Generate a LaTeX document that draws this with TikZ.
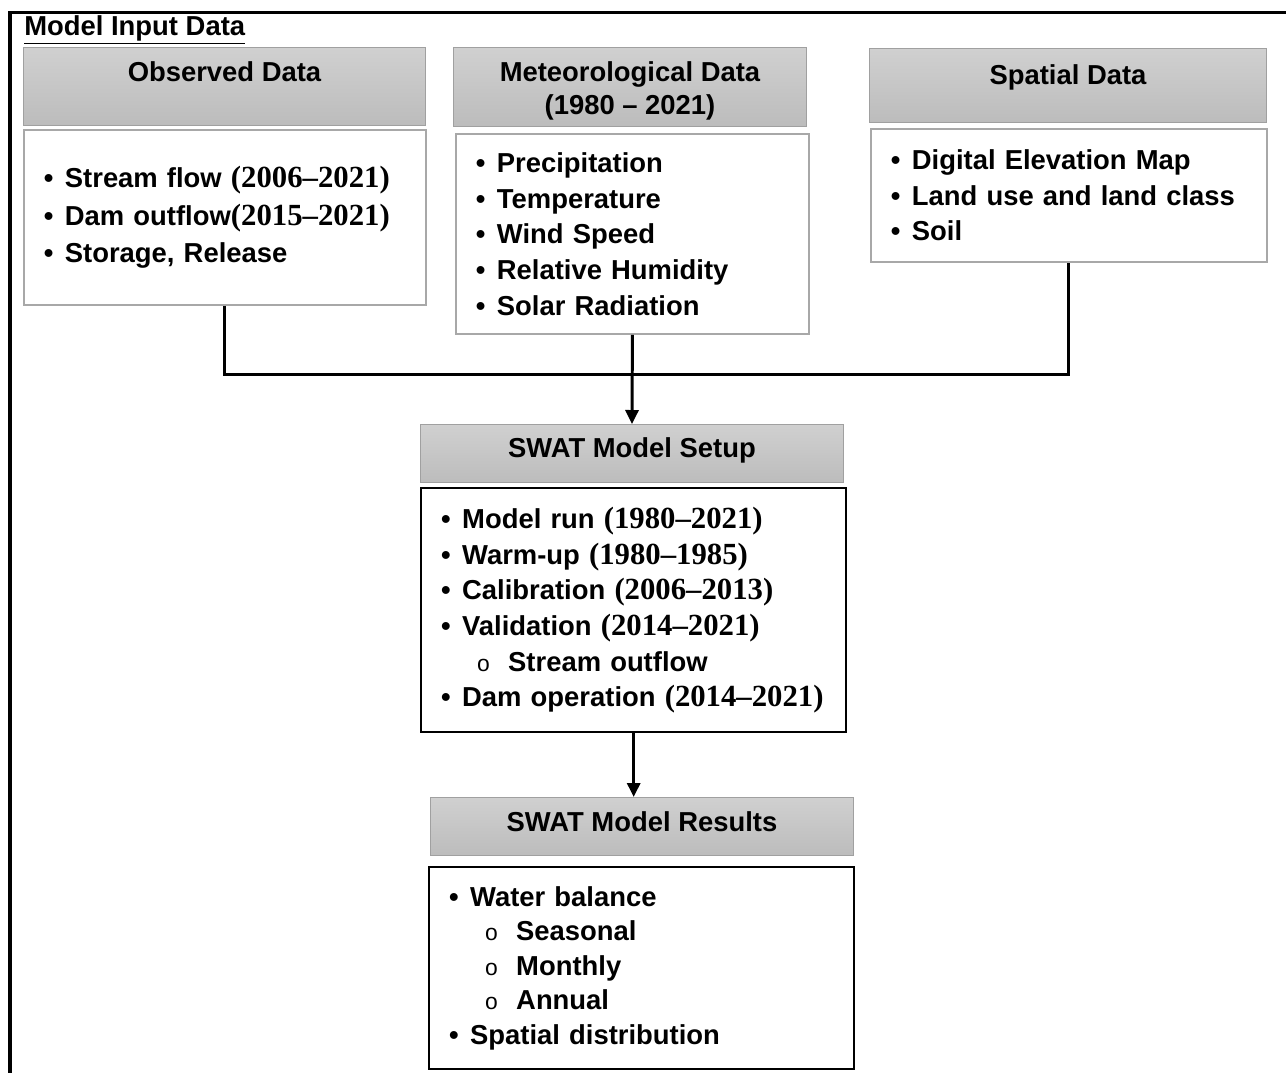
\documentclass[tikz,border=0pt]{standalone}
\usepackage{fontspec}
\setmainfont{Liberation Sans}
\newfontfamily\yrfont{Liberation Serif}
\usetikzlibrary{arrows.meta}

\definecolor{hdrtop}{RGB}{208,208,208}
\definecolor{hdrbot}{RGB}{188,188,188}
\definecolor{hdredge}{RGB}{160,160,160}
\definecolor{boxedge}{RGB}{168,168,168}

\newcommand{\yr}[1]{{\yrfont\fontsize{17.5}{20}\selectfont(#1)}}
\newcommand{\itm}[1]{\makebox[0.42cm][l]{\textbullet}#1}
\newcommand{\subitm}[1]{\hspace*{0.72cm}\makebox[0.62cm][l]{\fontsize{13}{14}\selectfont\mdseries o}#1}

\begin{document}
\begin{tikzpicture}[x=0.02cm, y=-0.02cm,
    every node/.style={font=\fontsize{15.6}{20.3}\selectfont\bfseries},
    headbox/.style={draw=hdredge, line width=0.6pt, top color=hdrtop, bottom color=hdrbot,
        inner ysep=0, anchor=north west, align=center},
    listbox/.style={draw=boxedge, line width=1.1pt, fill=white, inner xsep=0.4cm,
        anchor=north west, align=left},
    swatbox/.style={listbox, draw=black, line width=1.4pt},
    conn/.style={line width=1.7pt},
    arr/.style={conn, -{Triangle[length=0.28cm, width=0.26cm]}}]
    \useasboundingbox (0,0) rectangle (1286,1073);
    % Frame and title
    \draw[line width=1.7pt] (8,12) -- (1286,12);
    \draw[line width=2.8pt] (10,11) -- (10,1073);
    \node[anchor=base west, inner sep=0, font=\fontsize{15.6}{16}\selectfont\bfseries] (title) at (24,35) {\underline{Model Input Data}};
    % Observed data
    \node[headbox, minimum width=8.04cm, text height=0.68cm, text depth=0.88cm] (obshead) at (23,47) {Observed Data};
    \node[listbox, text width=7.24cm, minimum height=3.5cm, font=\fontsize{15.6}{21.3}\selectfont\bfseries] (obsbody) at (23,129)
        {\itm{Stream flow \yr{2006–2021}}\\ \itm{Dam outflow\yr{2015–2021}}\\ \itm{Storage, Release}};
    % Meteorological data
    \node[headbox, minimum width=7.06cm, text height=1.34cm, text depth=0.24cm, font=\fontsize{15.6}{18.8}\selectfont\bfseries] (methead) at (453,47) {Meteorological Data\\(1980 – 2021)};
    \node[listbox, text width=6.26cm, minimum height=4.0cm] (metbody) at (455,133)
        {\itm{Precipitation}\\ \itm{Temperature}\\ \itm{Wind Speed}\\ \itm{Relative Humidity}\\ \itm{Solar Radiation}};
    % Spatial data
    \node[headbox, minimum width=7.94cm, text height=0.72cm, text depth=0.76cm] (spahead) at (869,48) {Spatial Data};
    \node[listbox, text width=7.12cm, minimum height=2.66cm] (spabody) at (870,128)
        {\itm{Digital Elevation Map}\\ \itm{Land use and land class}\\ \itm{Soil}};
    % SWAT model setup
    \node[headbox, minimum width=8.46cm, text height=0.66cm, text depth=0.5cm] (setuphead) at (420,424) {SWAT Model Setup};
    \node[swatbox, text width=7.7cm, minimum height=4.88cm] (setupbody) at (420,487)
        {\itm{Model run \yr{1980–2021}}\\ \itm{Warm-up \yr{1980–1985}}\\ \itm{Calibration \yr{2006–2013}}\\
         \itm{Validation \yr{2014–2021}}\\ \subitm{Stream outflow}\\ \itm{Dam operation \yr{2014–2021}}};
    % SWAT model results
    \node[headbox, minimum width=8.46cm, text height=0.68cm, text depth=0.48cm] (resulthead) at (430,797) {SWAT Model Results};
    \node[swatbox, text width=7.7cm, minimum height=4.04cm, font=\fontsize{15.6}{19.6}\selectfont\bfseries] (resultbody) at (428,866)
        {\itm{Water balance}\\ \subitm{Seasonal}\\ \subitm{Monthly}\\ \subitm{Annual}\\ \itm{Spatial distribution}};
    % Connectors
    \coordinate (jn) at (627,374);
    \draw[conn] (obsbody.south) |- (jn) -| (spabody.south);
    \draw[arr] (metbody.south) -- (setuphead.north);
    \draw[arr] (setupbody.south) -- (setupbody.south |- resulthead.north);
\end{tikzpicture}
\end{document}
